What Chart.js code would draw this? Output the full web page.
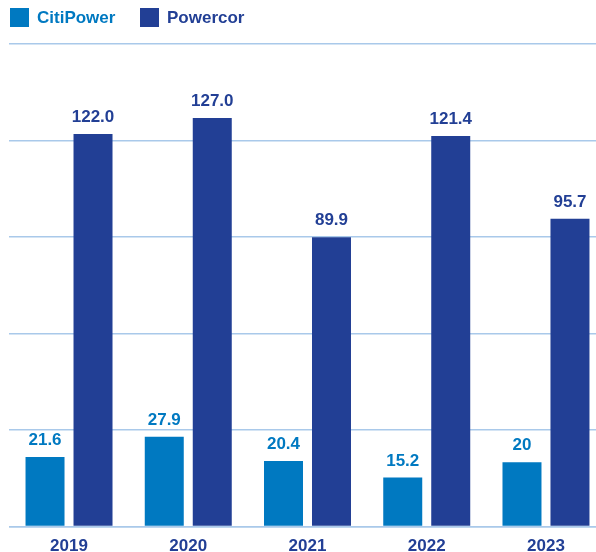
<!DOCTYPE html>
<html>
<head>
<meta charset="utf-8">
<script src="https://cdn.jsdelivr.net/npm/chart.js@4.4.1/dist/chart.umd.min.js"></script>
<style>
  body { margin: 0; background: #fff; }
  #wrap { width: 596px; height: 552px; position: relative; overflow: hidden; }
  #inner { width: 606px; height: 552px; position: absolute; left: 0; top: 0; }
  .legend { position: absolute; top: 8px; left: 10px; font: bold 17px 'Liberation Sans', Arial, sans-serif; }
  .legend span.item { position: absolute; top: 0; white-space: nowrap; line-height: 19px; }
  .legend i { display: inline-block; width: 19px; height: 19px; vertical-align: top; margin-right: 8px; }
</style>
</head>
<body>
<div id="wrap">
  <div id="inner"><canvas id="chart"></canvas></div>
  <div class="legend" id="legend"></div>
</div>
<script>
const years = ["2019", "2020", "2021", "2022", "2023"];
const citiPower = [21.6, 27.9, 20.4, 15.2, 20];
const powercor = [122.0, 127.0, 89.9, 121.4, 95.7];
const citiLabels = ["21.6", "27.9", "20.4", "15.2", "20"];
const powercorLabels = ["122.0", "127.0", "89.9", "121.4", "95.7"];

const LIGHT = "#0079c1";
const DARK = "#223f95";
const GRID = "#a9c9ea";
const FONT = "'Liberation Sans', Arial, sans-serif";

// draws the value above each bar
const valueLabels = {
  id: "valueLabels",
  afterDatasetsDraw(chart) {
    const ctx = chart.ctx;
    ctx.save();
    ctx.font = "bold 17px " + FONT;
    ctx.textAlign = "center";
    ctx.textBaseline = "alphabetic";
    chart.data.datasets.forEach(function (ds, i) {
      const meta = chart.getDatasetMeta(i);
      ctx.fillStyle = ds.backgroundColor;
      meta.data.forEach(function (bar, j) {
        ctx.fillText(ds.valueText[j], bar.x, bar.y - 12);
      });
    });
    ctx.restore();
  },
};

const data = {
  labels: years,
  datasets: [
    {
      label: "CitiPower",
      data: citiPower,
      valueText: citiLabels,
      backgroundColor: LIGHT,
    },
    {
      label: "Powercor",
      data: powercor,
      valueText: powercorLabels,
      backgroundColor: DARK,
    },
  ],
};

const config = {
  type: "bar",
  data: data,
  plugins: [valueLabels],
  options: {
    responsive: true,
    maintainAspectRatio: false,
    animation: false,
    datasets: {
      bar: {
        categoryPercentage: 0.805,
        barPercentage: 0.8125,
      },
    },
    layout: {
      padding: { left: 9.4, right: 0.4, top: 44, bottom: 0 },
    },
    plugins: {
      tooltip: { enabled: false },
      legend: { display: false },
    },
    scales: {
      x: {
        grid: { display: false, drawTicks: false },
        border: { display: true, color: GRID, width: 1.5 },
        ticks: {
          color: DARK,
          padding: 10,
          font: { family: FONT, size: 17, weight: "bold" },
        },
        afterFit: function (scale) {
          scale.height = 25.5;
        },
      },
      y: {
        min: 0,
        max: 150,
        ticks: { display: false, stepSize: 30 },
        grid: { color: GRID, lineWidth: 1.5, drawTicks: false },
        border: { display: false },
      },
    },
  },
};

const chart = new Chart("chart", config);

// html legend
const legend = document.getElementById("legend");
const legendX = [0, 130];
chart.data.datasets.forEach(function (ds, i) {
  const item = document.createElement("span");
  item.className = "item";
  item.style.left = legendX[i] + "px";
  item.style.color = ds.backgroundColor;
  item.innerHTML = '<i style="background:' + ds.backgroundColor + '"></i>' + ds.label;
  legend.appendChild(item);
});
</script>
</body>
</html>
